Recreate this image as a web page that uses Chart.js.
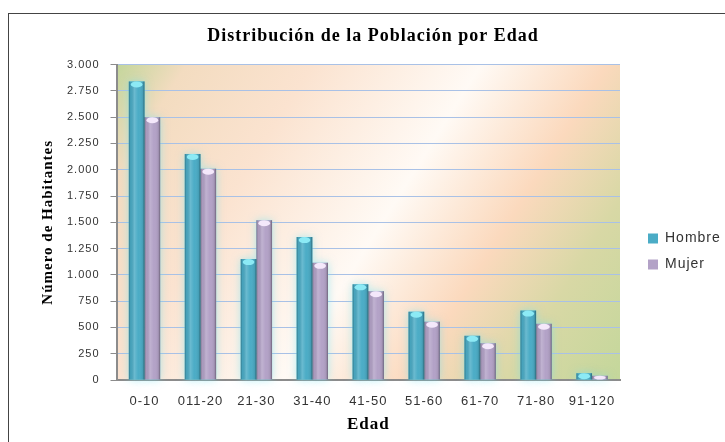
<!DOCTYPE html>
<html>
<head>
<meta charset="utf-8">
<script src="https://cdn.jsdelivr.net/npm/chart.js@4.4.1/dist/chart.umd.min.js"></script>
<style>
  html, body { margin: 0; padding: 0; background: #fff; overflow: hidden; }
  #frame { position: absolute; left: 8px; top: 13px; width: 760px; height: 480px; border: 1px solid #444; }
  #wrap { position: absolute; left: 0; top: 0; width: 725px; height: 442px; }
</style>
</head>
<body>
<div id="frame"></div>
<div id="wrap"><canvas id="chart" width="725" height="442"></canvas></div>
<script>
var categories = ['0-10', '011-20', '21-30', '31-40', '41-50', '51-60', '61-70', '71-80', '91-120'];
var hombre = [2840, 2150, 1150, 1360, 910, 650, 420, 660, 65];
var mujer = [2500, 2010, 1520, 1115, 845, 555, 350, 535, 40];

var capColors = ['#8ceaf5', '#f4e8fb'];
var glowColor = 'rgba(110,225,240,0.75)';
var LEGEND_SHIFT_X = 16;
var LEGEND_SHIFT_Y = 25;

function formatMiles(v) {
    return String(v).replace(/\B(?=(\d{3})+(?!\d))/g, '.');
}

// the original text is rendered slightly spread out
var textSpacing = {
    id: 'textSpacing',
    beforeUpdate: function(chart) { chart.ctx.letterSpacing = '1px'; },
    beforeDraw: function(chart) {
        chart.ctx.letterSpacing = '1px';
        var lg = chart.legend;
        lg.left += LEGEND_SHIFT_X; lg.right += LEGEND_SHIFT_X;
        lg.top += LEGEND_SHIFT_Y; lg.bottom += LEGEND_SHIFT_Y;
    }
};

var plotBackground = {
    id: 'plotBackground',
    beforeDraw: function(chart) {
        var ctx = chart.ctx;
        var a = chart.chartArea;
        var g = ctx.createLinearGradient(a.left, a.top, a.right, a.bottom);
        g.addColorStop(0, '#c3d69b');
        g.addColorStop(0.1, '#f3dcc0');
        g.addColorStop(0.28, '#fbe3d0');
        g.addColorStop(0.52, '#fffaf5');
        g.addColorStop(0.7, '#fbd9bd');
        g.addColorStop(0.84, '#d8d8a5');
        g.addColorStop(1, '#c4d79b');
        ctx.save();
        ctx.fillStyle = g;
        ctx.fillRect(a.left, a.top, a.right - a.left, a.bottom - a.top);
        ctx.restore();
    }
};

var barShine = {
    id: 'barShine',
    beforeDatasetsDraw: function(chart) {
        var ctx = chart.ctx;
        ctx.save();
        chart.data.datasets.forEach(function(ds, di) {
            chart.getDatasetMeta(di).data.forEach(function(bar) {
                var p = bar.getProps(['x', 'y', 'base', 'width'], true);
                ctx.shadowColor = glowColor;
                ctx.shadowBlur = 9;
                ctx.fillStyle = glowColor;
                ctx.fillRect(p.x - p.width / 2, p.y, p.width, p.base - p.y);
            });
        });
        ctx.restore();
    },
    afterDatasetsDraw: function(chart) {
        var ctx = chart.ctx;
        ctx.save();
        chart.data.datasets.forEach(function(ds, di) {
            chart.getDatasetMeta(di).data.forEach(function(bar) {
                var p = bar.getProps(['x', 'y', 'base', 'width'], true);
                var l = p.x - p.width / 2;
                var g = ctx.createLinearGradient(l, 0, l + p.width, 0);
                g.addColorStop(0, 'rgba(0,0,0,0.28)');
                g.addColorStop(0.12, 'rgba(0,0,0,0.05)');
                g.addColorStop(0.35, 'rgba(255,255,255,0.18)');
                g.addColorStop(0.6, 'rgba(255,255,255,0)');
                g.addColorStop(0.88, 'rgba(0,0,0,0.08)');
                g.addColorStop(1, 'rgba(0,0,0,0.38)');
                ctx.fillStyle = g;
                ctx.fillRect(l, p.y, p.width, p.base - p.y);
                var h = Math.min(3, (p.base - p.y) / 2);
                var rx = Math.max(1, p.width / 2 - 2);
                if (h > 0.5) {
                    ctx.fillStyle = capColors[di];
                    ctx.beginPath();
                    ctx.ellipse(p.x, p.y + h, rx, h, 0, 0, Math.PI * 2);
                    ctx.fill();
                }
            });
        });
        ctx.restore();
    }
};

new Chart(document.getElementById('chart'), {
    type: 'bar',
    data: {
        labels: categories,
        datasets: [
            {
                label: 'Hombre',
                data: hombre,
                backgroundColor: '#4bacc6',
                borderWidth: 0
            },
            {
                label: 'Mujer',
                data: mujer,
                backgroundColor: '#b3a2c7',
                borderWidth: 0
            }
        ]
    },
    options: {
        responsive: false,
        animation: false,
        devicePixelRatio: 1,
        layout: { padding: { left: 39, right: 18, top: 18, bottom: 7 } },
        datasets: { bar: { categoryPercentage: 0.56, barPercentage: 1 } },
        plugins: {
            title: {
                display: true,
                text: 'Distribución de la Población por Edad',
                color: '#000',
                font: { family: 'Liberation Serif', size: 18, weight: 'bold' },
                padding: { top: 8, bottom: 17 }
            },
            legend: {
                position: 'right',
                maxWidth: 87,
                labels: {
                    color: '#333',
                    font: { family: 'Liberation Sans', size: 14 },
                    boxWidth: 10,
                    boxHeight: 10,
                    padding: 12
                }
            },
            tooltip: { enabled: false }
        },
        scales: {
            x: {
                grid: { display: false, drawTicks: false },
                border: { color: '#8c8c8c', width: 2 },
                ticks: {
                    color: '#333',
                    font: { family: 'Liberation Sans', size: 13 },
                    padding: 14,
                    maxRotation: 0
                },
                title: {
                    display: true,
                    text: 'Edad',
                    color: '#000',
                    font: { family: 'Liberation Serif', size: 17, weight: 'bold' },
                    padding: { top: -9, bottom: 0 }
                }
            },
            y: {
                min: 0,
                max: 3000,
                grid: { color: '#a9c1e6', tickColor: '#8c8c8c', tickLength: 6 },
                border: { color: '#8c8c8c', width: 2 },
                ticks: {
                    stepSize: 250,
                    color: '#333',
                    font: { family: 'Liberation Sans', size: 11 },
                    padding: 11,
                    callback: function(v) { return formatMiles(v); }
                },
                title: {
                    display: true,
                    text: 'Número de Habitantes',
                    color: '#000',
                    font: { family: 'Liberation Serif', size: 15, weight: 'bold' },
                    padding: { top: 0, bottom: -1 }
                }
            }
        }
    },
    plugins: [textSpacing, plotBackground, barShine]
});
</script>
</body>
</html>
